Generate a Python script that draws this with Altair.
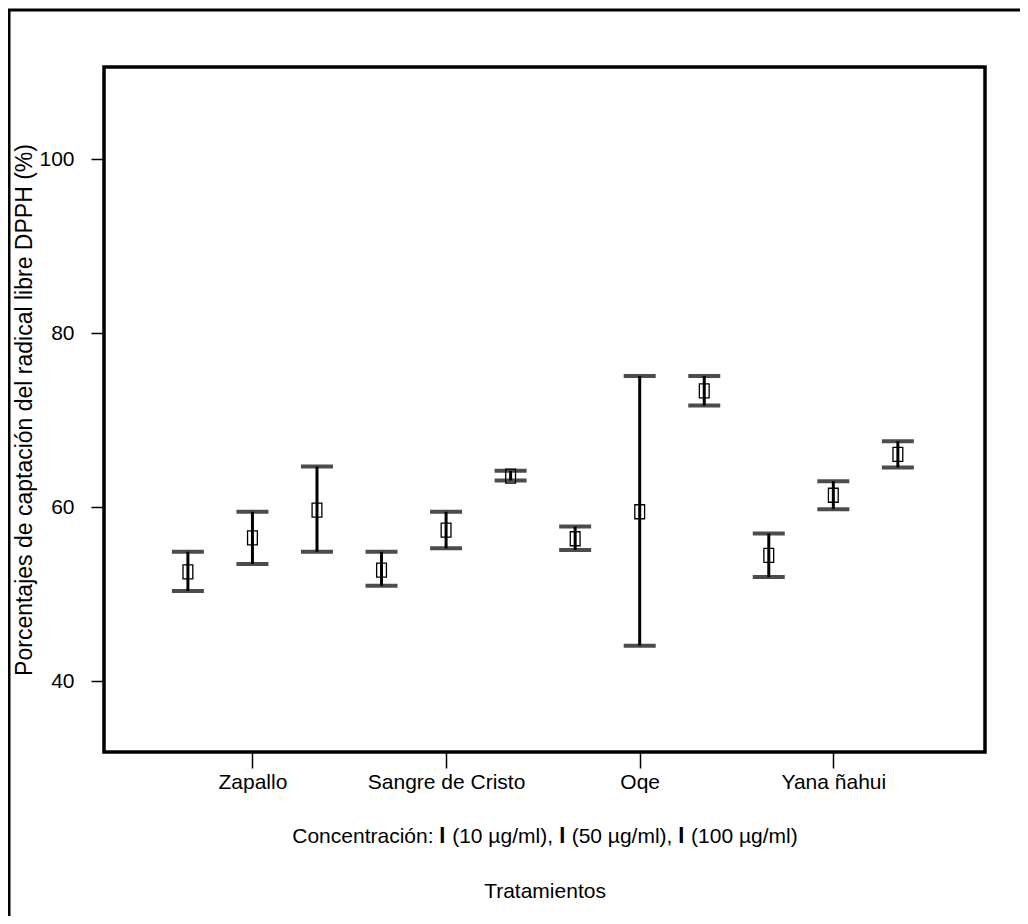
import altair as alt
import pandas as pd

# ---- data ----
groups = ["Zapallo", "Sangre de Cristo", "Oqe", "Yana ñahui"]
concentrations = ["10 µg/ml", "50 µg/ml", "100 µg/ml"]
positions = [1, 2, 3, 4, 5, 6, 7, 8, 9, 10, 11, 12]
means = [52.6, 56.5, 59.7, 52.8, 57.4, 63.6, 56.4, 59.5, 73.4, 54.5, 61.4, 66.1]
lower = [50.4, 53.5, 54.9, 51.0, 55.3, 63.1, 55.1, 44.1, 71.7, 52.0, 59.8, 64.6]
upper = [54.9, 59.5, 64.7, 54.9, 59.5, 64.2, 57.8, 75.1, 75.1, 57.0, 63.0, 67.6]
group_ticks = [2, 5, 8, 11]
y_ticks = [40, 60, 80, 100]

rows = []
for i, p in enumerate(positions):
    rows.append({
        "pos": p,
        "grupo": groups[i // 3],
        "conc": concentrations[i % 3],
        "media": means[i],
        "lo": lower[i],
        "hi": upper[i],
    })
df = pd.DataFrame(rows)

label_expr = " : ".join(
    f"datum.value == {v} ? '{g}'" for v, g in zip(group_ticks, groups)
) + " : ''"

FONT = "Liberation Sans"
BAR = "𝐈"

x_scale = alt.Scale(domain=[-0.30, 13.35], nice=False, zero=False)
y_scale = alt.Scale(domain=[31.9, 110.6], nice=False, zero=False)

conc_line = "Concentración: " + ", ".join(f"{BAR} ({c})" for c in concentrations)

x_enc = alt.X(
    "pos:Q",
    scale=x_scale,
    axis=alt.Axis(
        values=group_ticks,
        labelExpr=label_expr,
        title=[conc_line, "Tratamientos"],
        titleLineHeight=55,
        titlePadding=33,
        tickSize=16,
        labelPadding=3,
        labelFontSize=21,
        titleFontSize=21,
    ),
)
y_enc = alt.Y(
    "media:Q",
    scale=y_scale,
    axis=alt.Axis(
        values=y_ticks,
        title="Porcentajes de captación  del radical libre DPPH (%)",
        tickSize=13,
        labelPadding=17,
        labelFontSize=21,
        titlePadding=2,
        titleFontSize=23,
    ),
)

base = alt.Chart(df)

bars = base.mark_rule(color="black", strokeWidth=3).encode(
    x=x_enc, y=alt.Y("lo:Q", scale=y_scale), y2="hi:Q"
)
cap_lo = base.mark_tick(color="black", orient="horizontal", size=32, thickness=4).encode(
    x=alt.X("pos:Q", scale=x_scale), y=alt.Y("lo:Q", scale=y_scale)
)
cap_hi = base.mark_tick(color="black", orient="horizontal", size=32, thickness=4).encode(
    x=alt.X("pos:Q", scale=x_scale), y=alt.Y("hi:Q", scale=y_scale)
)
points = base.mark_point(
    shape="M-0.7,-1H0.7V1H-0.7Z", size=196, filled=False, color="black",
    strokeWidth=1.3, opacity=1
).encode(x=x_enc, y=y_enc)

frame = alt.Chart(pd.DataFrame({"f": [0]})).mark_rect(
    fill=None, stroke="black", strokeWidth=3
).encode(
    x=alt.value(-95), x2=alt.value(1200), y=alt.value(-57), y2=alt.value(1200)
)

chart = alt.layer(frame, bars, cap_lo, cap_hi, points).properties(
    width=881,
    height=685,
    autosize=alt.AutoSizeParams(type="none"),
    padding={"left": 96, "top": 59, "right": 35, "bottom": 164},
).configure_view(
    stroke="black", strokeWidth=3.5
).configure_axis(
    domain=False,
    grid=False,
    tickColor="black",
    tickWidth=1.5,
    labelFont=FONT,
    labelColor="black",
    titleFont=FONT,
    titleFontWeight="normal",
    titleColor="black",
)

chart.save("out.html", embed_options={"renderer": "svg", "actions": False})
